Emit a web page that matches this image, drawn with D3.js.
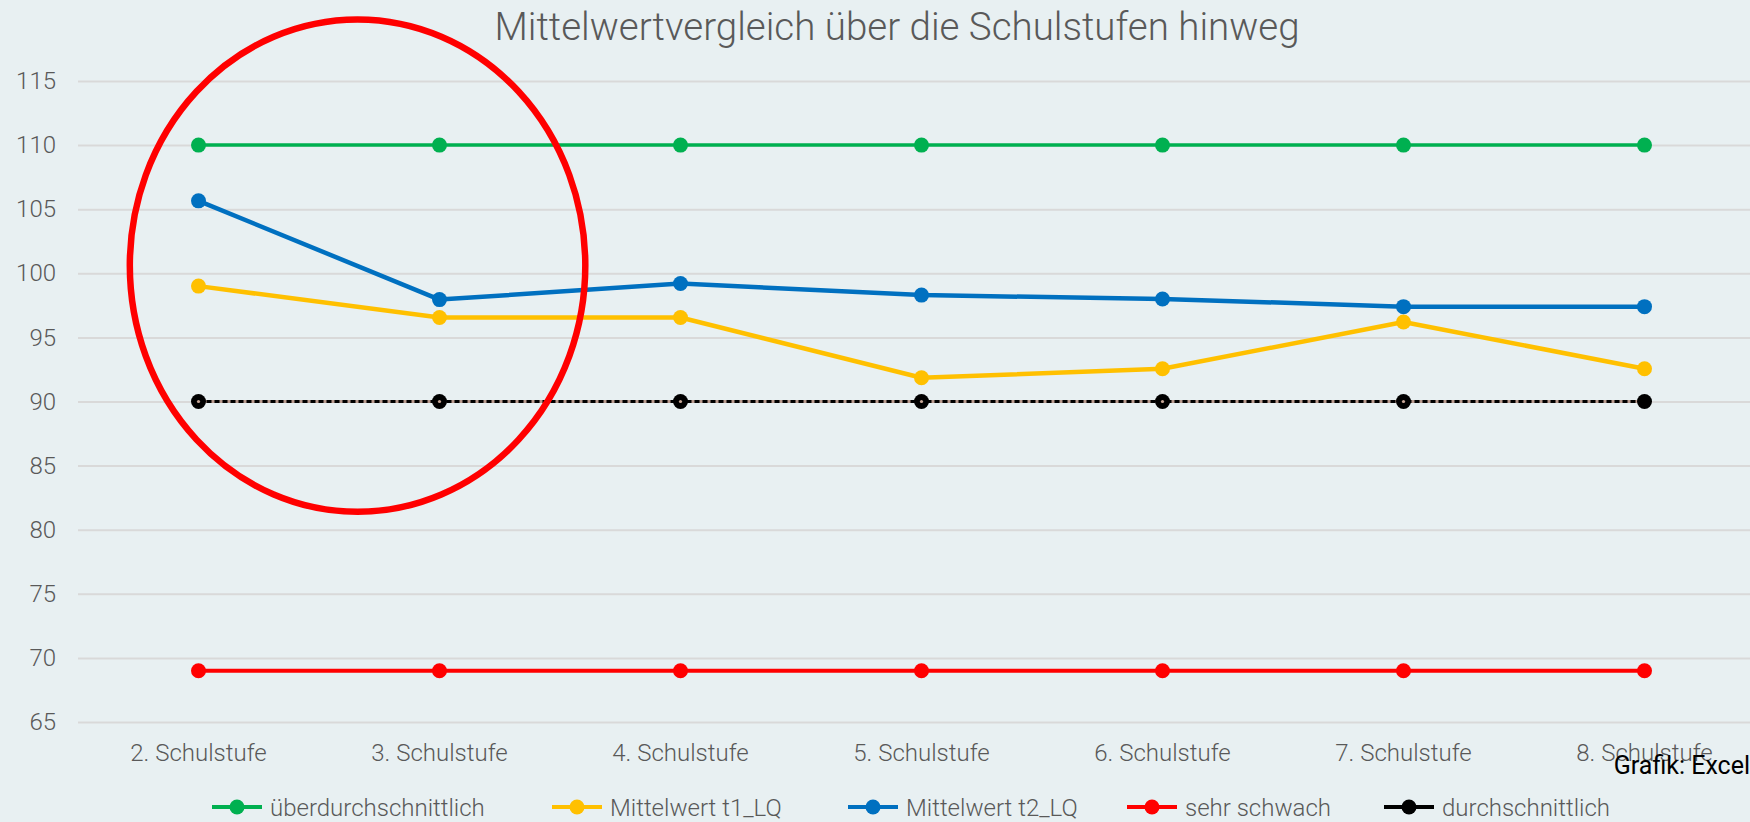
<!DOCTYPE html>
<html>
<head>
<meta charset="utf-8">
<script src="https://cdn.jsdelivr.net/npm/d3@7"></script>
<style>
  body { margin: 0; background: #e8f0f2; }
  svg { display: block; font-family: Roboto, "Liberation Sans", sans-serif; }
</style>
</head>
<body>
<svg width="1750" height="822"></svg>
<script>
// chart data
var categories = ["2. Schulstufe", "3. Schulstufe", "4. Schulstufe", "5. Schulstufe", "6. Schulstufe", "7. Schulstufe", "8. Schulstufe"];
var ueberdurchschnittlich = [110, 110, 110, 110, 110, 110, 110];
var mittelwertT1 = [99.0, 96.55, 96.55, 91.85, 92.55, 96.2, 92.55];
var mittelwertT2 = [105.65, 97.95, 99.2, 98.3, 98.0, 97.4, 97.4];
var sehrSchwach = [69, 69, 69, 69, 69, 69, 69];
var durchschnittlich = [90, 90, 90, 90, 90, 90, 90];
var yTicks = [65, 70, 75, 80, 85, 90, 95, 100, 105, 110, 115];

var series = [
  { name: "überdurchschnittlich", values: ueberdurchschnittlich, color: "#00b050", width: 3.5 },
  { name: "Mittelwert t1_LQ", values: mittelwertT1, color: "#ffc000", width: 4.5 },
  { name: "Mittelwert t2_LQ", values: mittelwertT2, color: "#0070c0", width: 4.5 },
  { name: "sehr schwach", values: sehrSchwach, color: "#ff0000", width: 4 },
  { name: "durchschnittlich", values: durchschnittlich, color: "#000000", width: 3, dashed: true }
];

var svg = d3.select("svg"),
    width = +svg.attr("width"),
    height = +svg.attr("height");

var plot = { left: 78, right: 1765, top: 81, bottom: 722 };
var labelSize = 24, grey = "#595959";
var legendX = [212, 552, 848, 1127, 1384];

var x = d3.scaleBand().domain(categories).range([plot.left, plot.right]);
var y = d3.scaleLinear().domain([65, 115]).range([plot.bottom, plot.top]);
var cx = function(i) { return x(categories[i]) + x.bandwidth() / 2; };

svg.append("rect").attr("width", width).attr("height", height).attr("fill", "#e8f0f2");

// title
svg.append("text")
  .attr("x", 897).attr("y", 40)
  .attr("text-anchor", "middle")
  .attr("font-size", 38.5).attr("font-weight", 300)
  .attr("fill", grey)
  .text("Mittelwertvergleich über die Schulstufen hinweg");

// gridlines + y labels
var yAxis = d3.axisLeft(y).tickValues(yTicks).tickSize(-(plot.right - plot.left)).tickPadding(22);
var gy = svg.append("g").attr("transform", "translate(" + plot.left + ",0)").call(yAxis);
gy.select(".domain").remove();
gy.selectAll(".tick line").attr("stroke", "#d9d9d9").attr("stroke-width", 2);
gy.selectAll(".tick text").attr("fill", grey).attr("font-size", labelSize).attr("font-weight", 300)
  .attr("font-family", "Roboto, sans-serif");

// x labels
var xAxis = d3.axisBottom(x).tickSize(0).tickPadding(22);
var gx = svg.append("g").attr("transform", "translate(0," + plot.bottom + ")").call(xAxis);
gx.select(".domain").remove();
gx.selectAll(".tick text").attr("fill", grey).attr("font-size", labelSize).attr("font-weight", 300)
  .attr("font-family", "Roboto, sans-serif");

var line = d3.line().x(function(d, i) { return cx(i); }).y(function(d) { return y(d); });

series.forEach(function(s) {
  var g = svg.append("g");
  if (s.dashed) {
    g.append("path").attr("d", line(s.values)).attr("fill", "none")
      .attr("stroke", "#b89a8e").attr("stroke-width", s.width);
    g.append("path").attr("d", line(s.values)).attr("fill", "none")
      .attr("stroke", s.color).attr("stroke-width", s.width).attr("stroke-dasharray", "5,3");
  } else {
    g.append("path").attr("d", line(s.values)).attr("fill", "none")
      .attr("stroke", s.color).attr("stroke-width", s.width).attr("stroke-linejoin", "round");
  }
  g.selectAll("circle.m").data(s.values).enter().append("circle")
    .attr("cx", function(d, i) { return cx(i); })
    .attr("cy", function(d) { return y(d); })
    .attr("r", 7.5).attr("fill", s.color);
  if (s.dashed) {
    g.selectAll("circle.c").data(s.values.slice(0, -1)).enter().append("circle")
      .attr("cx", function(d, i) { return cx(i); })
      .attr("cy", function(d) { return y(d); })
      .attr("r", 1.6).attr("fill", "#c8a898");
  }
});

// red annotation ellipse
svg.append("ellipse")
  .attr("cx", cx(0) + 0.66 * x.step())
  .attr("cy", y(100.6))
  .attr("rx", 0.945 * x.step())
  .attr("ry", y(81.4) - y(100.6))
  .attr("fill", "none").attr("stroke", "#ff0000").attr("stroke-width", 6.5);

// legend
var legend = svg.append("g");
series.forEach(function(s, i) {
  var item = legend.append("g").attr("transform", "translate(" + legendX[i] + ",807)");
  item.append("line").attr("x1", 0).attr("x2", 50).attr("stroke", s.color).attr("stroke-width", 4);
  item.append("circle").attr("cx", 25).attr("r", 7.5).attr("fill", s.color);
  item.append("text").attr("x", 58).attr("y", 8.5)
    .attr("font-size", labelSize).attr("font-weight", 300).attr("fill", grey)
    .text(s.name);
});

// source note
svg.append("text")
  .attr("x", 1750).attr("y", 774).attr("text-anchor", "end")
  .attr("font-size", 25).attr("fill", "#000")
  .text("Grafik: Excel");
</script>
</body>
</html>
